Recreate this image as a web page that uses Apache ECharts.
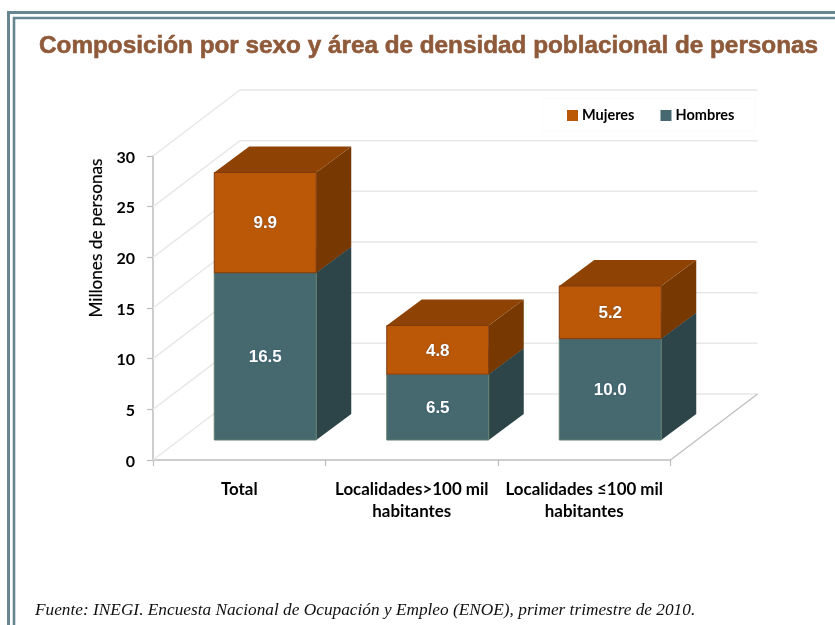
<!DOCTYPE html>
<html>
<head>
<meta charset="utf-8">
<style>html,body{margin:0;padding:0;background:#fff}#c{width:835px;height:625px}</style>
<script src="https://cdn.jsdelivr.net/npm/echarts@6/dist/echarts.min.js"></script>
</head>
<body>
<div id="c"></div>
<script>
const categories = ['Total', 'Localidades>100 mil\nhabitantes', 'Localidades ≤100 mil\nhabitantes'];
const hombres = [16.5, 6.5, 10.0];
const mujeres = [9.9, 4.8, 5.2];
const yTicks = [0, 5, 10, 15, 20, 25, 30];
const TITLE = 'Composición por sexo y área de densidad poblacional de personas';
const SOURCE = 'Fuente: INEGI. Encuesta Nacional de Ocupación y Empleo (ENOE), primer trimestre de 2010.';
const YNAME = 'Millones de personas';

const BODY = 'Lato, "Noto Sans", sans-serif';
const C = {
  teal: ['#46696f', '#2d4549', '#2d4549', '#5f7f6c'],
  orange: ['#bb5808', '#773802', '#8e4204', '#7e3a10'],
  wall: '#e8e8e8', axis: '#bdbdbd', frame: '#66878f'
};
const WALL = [87, -66];      // depth of the 3D floor
const FRONT = [26, -20];     // offset of the bars' front face
const DEPTH = [35, -26];     // depth of each bar
const BAR_W = 102;

function wallItem(params, api) {
  const r = params.coordSys;
  const y = api.coord([0, api.value(1)])[1];
  const x0 = r.x, x1 = r.x + r.width;
  const lineStyle = { stroke: C.wall, lineWidth: 1.5, fill: null };
  const children = [
    { type: 'polyline', shape: { points: [[x0, y], [x0 + WALL[0], y + WALL[1]], [x1 + WALL[0], y + WALL[1]]] }, style: lineStyle }
  ];
  if (api.value(1) === 0) {
    children.push({ type: 'line', shape: { x1: x1, y1: y, x2: x1 + WALL[0], y2: y + WALL[1] }, style: { stroke: C.axis, lineWidth: 1.2 } });
  }
  return { type: 'group', children };
}

function barItem(colors) {
  return function (params, api) {
    const idx = api.value(0);
    const cx = api.coord([idx, 0])[0] + FRONT[0];
    const yb = api.coord([idx, api.value(1)])[1] + FRONT[1];
    const yt = api.coord([idx, api.value(2)])[1] + FRONT[1];
    const xl = cx - BAR_W / 2, xr = cx + BAR_W / 2;
    const dx = DEPTH[0], dy = DEPTH[1];
    const edge = { stroke: colors[3], lineWidth: 1 };
    return {
      type: 'group',
      children: [
        { type: 'polygon', shape: { points: [[xr, yb], [xr + dx, yb + dy], [xr + dx, yt + dy], [xr, yt]] }, style: { fill: colors[1] } },
        { type: 'polygon', shape: { points: [[xl, yt], [xr, yt], [xr + dx, yt + dy], [xl + dx, yt + dy]] }, style: { fill: colors[2] } },
        { type: 'rect', shape: { x: xl, y: yt, width: BAR_W, height: yb - yt }, style: Object.assign({ fill: colors[0] }, edge) },
        { type: 'text', x: cx, y: (yt + yb) / 2 + 1, style: {
            text: (api.value(2) - api.value(1)).toFixed(1), fill: '#fff',
            font: 'bold 17px "Liberation Sans", Arial, sans-serif', align: 'center', verticalAlign: 'middle',
            textShadowColor: 'rgba(20,60,110,0.55)', textShadowBlur: 1.5 } }
      ]
    };
  };
}

const chart = echarts.init(document.getElementById('c'), null, { renderer: 'canvas' });
chart.setOption({
  animation: false,
  backgroundColor: '#fff',
  title: [
    { text: TITLE, left: 34, top: 29, textStyle: { fontFamily: '"Liberation Sans", Arial, sans-serif', fontWeight: 'bold', fontSize: 24.3, color: '#8e5a3a', textBorderColor: '#8e5a3a', textBorderWidth: 0.6 } },
    { text: SOURCE, left: 30, top: 597, textStyle: { fontFamily: '"Liberation Serif", serif', fontStyle: 'italic', fontWeight: 'normal', fontSize: 17.3, color: '#111' } }
  ],
  graphic: [
    { type: 'polyline', silent: true, shape: { points: [[8.5, 625], [8.5, 12.5], [835, 12.5]] }, style: { stroke: C.frame, lineWidth: 3, fill: null } },
    { type: 'polyline', silent: true, shape: { points: [[14, 625], [14, 18], [835, 18]] }, style: { stroke: C.frame, lineWidth: 2.6, fill: null } }
  ],
  legend: {
    data: ['Mujeres', 'Hombres'], left: 543, top: 98, padding: [10, 20, 8, 24], borderColor: '#fbfbfb', borderWidth: 1,
    icon: 'rect', itemWidth: 11, itemHeight: 11, itemGap: 26,
    textStyle: { fontFamily: BODY, fontWeight: 'bold', fontSize: 14.5, color: '#000', padding: [0, 0, 0, -1] }
  },
  grid: { left: 153, right: 164.5, top: 156, bottom: 165, containLabel: false },
  xAxis: {
    type: 'category', data: categories,
    axisLine: { lineStyle: { color: C.axis, width: 1.5 } },
    axisTick: { show: true, alignWithLabel: false, length: 6, lineStyle: { color: C.axis, width: 1.2 } },
    axisLabel: { interval: 0, margin: 19, lineHeight: 22, fontFamily: BODY, fontWeight: 'bold', fontSize: 16.9, color: '#000' },
    splitLine: { show: false }
  },
  yAxis: {
    type: 'value', min: 0, max: 30, interval: 5,
    name: YNAME, nameLocation: 'middle', nameRotate: 90, nameGap: 46,
    nameTextStyle: { fontFamily: BODY, fontWeight: 'normal', fontSize: 17.2, color: '#000', padding: [0, 0, 0, 140], textBorderColor: '#000', textBorderWidth: 0.2 },
    axisLine: { show: true, lineStyle: { color: C.axis, width: 1.5 } },
    axisTick: { show: true, length: 6, lineStyle: { color: C.axis, width: 1.2 } },
    axisLabel: { margin: 18, verticalAlign: 'top', lineHeight: 3, fontFamily: BODY, fontWeight: 'bold', fontSize: 16, color: '#000' },
    splitLine: { show: false }
  },
  series: [
    { type: 'custom', name: 'wall', silent: true, z: 1, renderItem: wallItem,
      data: yTicks.map(v => [0, v]), encode: { x: 0, y: 1 } },
    { type: 'custom', name: 'Hombres', z: 3, itemStyle: { color: C.teal[0] }, renderItem: barItem(C.teal),
      data: hombres.map((v, i) => [i, 0, v]), encode: { x: 0, y: [1, 2] } },
    { type: 'custom', name: 'Mujeres', z: 4, itemStyle: { color: C.orange[0] }, renderItem: barItem(C.orange),
      data: mujeres.map((v, i) => [i, hombres[i], hombres[i] + v]), encode: { x: 0, y: [1, 2] } }
  ]
});
</script>
</body>
</html>
